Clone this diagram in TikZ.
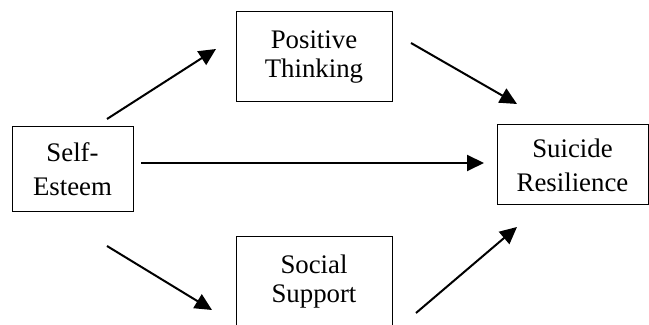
\documentclass[tikz,border=0pt]{standalone}
\usepackage{fontspec}
\setmainfont{Liberation Serif}
\usetikzlibrary{arrows.meta}

\begin{document}
\begin{tikzpicture}[x=0.5pt, y=-0.5pt,
		box/.style={draw=black, line width=0.5pt, align=center, inner sep=0pt},
		wide/.style={font=\fontsize{13.4}{17}\selectfont},
		tight/.style={font=\fontsize{13.4}{14.5}\selectfont},
		link/.style={line width=1pt, -{Triangle[length=8.5pt, width=8pt]}}]
			%%%%% START %%%%%
			\clip (0, 0) rectangle (649, 325);
			
			\node[box, wide, minimum width=60.5pt, minimum height=42.5pt] (esteem) at (72.5, 169.5) {Self-\\Esteem};
			\node[box, tight, minimum width=78pt, minimum height=45pt] (thinking) at (314, 57) {Positive\\Thinking};
			\node[box, tight, minimum width=78pt, minimum height=45pt] (support) at (314, 282) {Social\\Support};
			\node[box, wide, minimum width=75.5pt, minimum height=40pt] (resilience) at (572.5, 165) {Suicide\\Resilience};
			
			\coordinate (a1) at (107, 119);  \coordinate (a2) at (216, 49);
			\coordinate (b1) at (107, 246);  \coordinate (b2) at (212, 310);
			\coordinate (c1) at (141, 163);  \coordinate (c2) at (484, 163);
			\coordinate (d1) at (411, 43);   \coordinate (d2) at (517, 104);
			\coordinate (e1) at (416, 313);  \coordinate (e2) at (517, 227);
			
			\draw[link] (a1) -- (a2);
			\draw[link] (b1) -- (b2);
			\draw[link] (c1) -- (c2);
			\draw[link] (d1) -- (d2);
			\draw[link] (e1) -- (e2);
			%%%%% END %%%%%
\end{tikzpicture}
\end{document}
